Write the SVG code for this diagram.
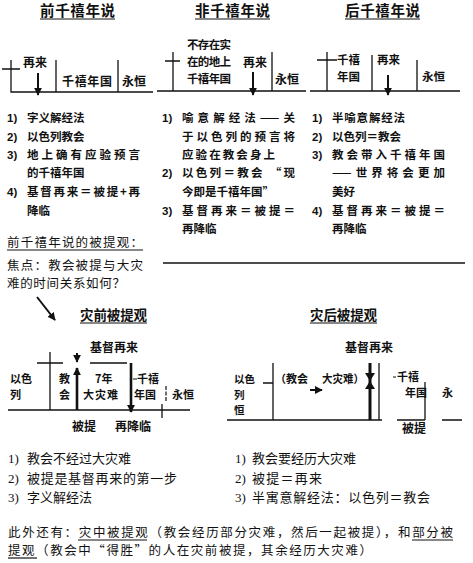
<svg xmlns="http://www.w3.org/2000/svg" width="473" height="563" viewBox="0 0 473 563">
<defs>
<marker id="ah" viewBox="0 0 10 10" refX="9" refY="5" markerWidth="4" markerHeight="4" orient="auto" markerUnits="strokeWidth"><path d="M0,0 L10,5 L0,10 z" fill="#111"/></marker>
<marker id="ahs" viewBox="0 0 10 10" refX="9" refY="5" markerWidth="3.2" markerHeight="3.2" orient="auto" markerUnits="strokeWidth"><path d="M0,0 L10,5 L0,10 z" fill="#111"/></marker>
</defs>
<style>
text{fill:#111;font-family:"Noto Sans CJK SC","Liberation Sans",sans-serif}
.t{font-size:14.5px;font-weight:bold}
.st{font-size:13.5px;font-weight:bold}
.lb{font-size:12px;font-weight:bold}
.ls{font-size:11px;font-weight:bold}
.lx{font-size:10.5px;font-weight:bold}
.lt{font-size:11.5px;font-weight:bold}
.li{font-size:11.5px;font-weight:bold}
.n{font-family:"Liberation Sans","Noto Sans CJK SC",sans-serif;font-size:11.5px;font-weight:bold}
.m{font-size:12.5px}
.b{font-size:13px}
.p{font-size:12.5px}
.bn{font-family:"Liberation Serif","Noto Sans CJK SC",serif;font-size:13px}
.ln{stroke:#111;stroke-width:1.3;fill:none}
.ul{stroke:#111;stroke-width:1.2}
.ar{stroke:#111;stroke-width:2;fill:none;marker-end:url(#ah)}
.arT{stroke:#111;stroke-width:2.6;fill:none;marker-end:url(#ahs)}
</style>

<!-- Titles -->
<g id="title-pre">
<text class="t" x="40" y="16" textLength="75" lengthAdjust="spacing">前千禧年说</text>
<line class="ul" x1="40" y1="19" x2="115" y2="19"/>
</g>
<g id="title-a">
<text class="t" x="195" y="16" textLength="75" lengthAdjust="spacing">非千禧年说</text>
<line class="ul" x1="195" y1="19" x2="270" y2="19"/>
</g>
<g id="title-post">
<text class="t" x="345" y="16" textLength="75" lengthAdjust="spacing">后千禧年说</text>
<line class="ul" x1="345" y1="19" x2="420" y2="19"/>
</g>

<!-- Diagram 1: premillennial -->
<g id="diag-pre">
<path class="ln" d="M2,69 H20 M11,60 V92 H153 M56,60 V92 M118,60 V92"/>
<text class="lb" x="23" y="67">再来</text>
<text class="lb" x="62" y="86" textLength="50" lengthAdjust="spacing">千禧年国</text>
<text class="lb" x="122" y="86">永恒</text>
</g>
<!-- Diagram 2: amillennial -->
<g id="diag-a">
<path class="ln" d="M165,61 H180 M173,52 V91 M157,91 H306 M272,52 V91"/>
<text class="lt" x="187" y="49" textLength="44" lengthAdjust="spacing">不存在实</text>
<text class="lt" x="187" y="66" textLength="44" lengthAdjust="spacing">在的地上</text>
<text class="lt" x="187" y="83" textLength="44" lengthAdjust="spacing">千禧年国</text>
<text class="lb" x="243" y="67">再来</text>
<text class="lb" x="275" y="84">永恒</text>
</g>
<!-- Diagram 3: postmillennial -->
<g id="diag-post">
<path class="ln" d="M317,60 H337 M327,52 V91 M310,91 H460 M372,55 V91 M417,60 V91"/>
<text class="lt" x="337" y="64">千禧</text>
<text class="lt" x="337" y="81">年国</text>
<text class="lt" x="377" y="64">再来</text>
<text class="lt" x="422" y="81">永恒</text>
</g>

<!-- Lists top -->
<g id="list-pre">
<text class="n" x="7" y="122">1)</text><text class="li" x="27" y="122">字义解经法</text>
<text class="n" x="7" y="141">2)</text><text class="li" x="27" y="141">以色列教会</text>
<text class="n" x="7" y="159">3)</text><text class="li" x="27" y="159" textLength="113" lengthAdjust="spacing">地上确有应验预言</text>
<text class="li" x="27" y="177">的千禧年国</text>
<text class="n" x="7" y="196">4)</text><text class="li" x="27" y="196" textLength="113" lengthAdjust="spacing">基督再来＝被提+再</text>
<text class="li" x="27" y="215">降临</text>
</g>
<g id="list-a">
<text class="n" x="162" y="122">1)</text><text class="li" x="182" y="122" textLength="113" lengthAdjust="spacing">喻意解经法——关</text>
<text class="li" x="182" y="141" textLength="113" lengthAdjust="spacing">于以色列的预言将</text>
<text class="li" x="182" y="159" textLength="93" lengthAdjust="spacing">应验在教会身上</text>
<text class="n" x="162" y="177">2)</text><text class="li" x="182" y="177" textLength="113" lengthAdjust="spacing">以色列＝教会 “现</text>
<text class="li" x="182" y="196" textLength="92" lengthAdjust="spacing">今即是千禧年国”</text>
<text class="n" x="162" y="215">3)</text><text class="li" x="182" y="215" textLength="113" lengthAdjust="spacing">基督再来＝被提＝</text>
<text class="li" x="182" y="233">再降临</text>
</g>
<g id="list-post">
<text class="n" x="312" y="122">1)</text><text class="li" x="332" y="122" textLength="73" lengthAdjust="spacing">半喻意解经法</text>
<text class="n" x="312" y="141">2)</text><text class="li" x="332" y="141">以色列＝教会</text>
<text class="n" x="312" y="159">3)</text><text class="li" x="332" y="159" textLength="113" lengthAdjust="spacing">教会带入千禧年国</text>
<text class="li" x="332" y="177" textLength="113" lengthAdjust="spacing">——世界将会更加</text>
<text class="li" x="332" y="196">美好</text>
<text class="n" x="312" y="215">4)</text><text class="li" x="332" y="215" textLength="113" lengthAdjust="spacing">基督再来＝被提＝</text>
<text class="li" x="332" y="233">再降临</text>
</g>

<!-- Middle -->
<g id="focus">
<text class="m" x="7" y="247" textLength="136" lengthAdjust="spacing">前千禧年说的被提观：</text>
<line class="ul" x1="7" y1="250" x2="143" y2="250"/>
<text class="m" x="7" y="270" textLength="136" lengthAdjust="spacing">焦点：教会被提与大灾</text>
<text class="m" x="7" y="288" textLength="118" lengthAdjust="spacing">难的时间关系如何？</text>
</g>
<g id="divider"><line x1="163" y1="263" x2="465" y2="263" stroke="#111" stroke-width="1.4"/></g>

<g id="title-pretrib">
<text class="st" x="80" y="320" textLength="67" lengthAdjust="spacing">灾前被提观</text>
<line class="ul" x1="80" y1="323" x2="147" y2="323"/>
</g>
<g id="title-posttrib">
<text class="st" x="310" y="320" textLength="67" lengthAdjust="spacing">灾后被提观</text>
<line class="ul" x1="310" y1="323" x2="377" y2="323"/>
</g>

<!-- Pre-trib diagram -->
<g id="diag-pretrib">
<path class="ln" d="M37,363 H63 M50,352 V410 M90,363 H127 M8,410 H190 M162,404 V418"/>
<line x1="166" y1="386" x2="166" y2="401" stroke="#111" stroke-width="1.2" stroke-dasharray="4,1.5"/>
<line x1="133" y1="379" x2="137" y2="379" stroke="#111" stroke-width="1"/>
<text class="lb" x="90" y="352">基督再来</text>
<text class="ls" x="10" y="383">以色</text>
<text class="ls" x="10" y="399">列</text>
<text class="ls" x="59" y="383">教</text>
<text class="ls" x="59" y="399">会</text>
<text class="ls" x="95" y="383">7年</text>
<text class="ls" x="83" y="399" textLength="35" lengthAdjust="spacing">大灾难</text>
<text class="ls" x="137" y="383">千禧</text>
<text class="ls" x="134" y="399">年国</text>
<text class="ls" x="172" y="399">永恒</text>
<text class="lb" x="72" y="431">被提</text>
<text class="lb" x="115" y="431">再降临</text>
</g>

<!-- Post-trib diagram -->
<g id="diag-posttrib">
<path class="ln" d="M263,383 H273 M273,363 V420 M379,363 V420 M227,420 H382 M425,382 V420 M397,420 H425 M442,420 H462"/>
<line x1="370" y1="363" x2="370" y2="420" stroke="#111" stroke-width="3"/>
<path d="M365,373 H375 L370,381 Z M365,389 H375 L370,381 Z" fill="#111"/>
<line x1="393" y1="377" x2="396" y2="377" stroke="#111" stroke-width="1"/>
<text class="lb" x="345" y="352">基督再来</text>
<text class="lx" x="234" y="383">以色</text>
<text class="lx" x="234" y="398.5">列</text>
<text class="lx" x="234" y="414">恒</text>
<text class="ls" x="275" y="383" textLength="33" lengthAdjust="spacingAndGlyphs">（教会</text>
<text class="ls" x="322" y="383" textLength="42" lengthAdjust="spacingAndGlyphs">大灾难）</text>
<text class="ls" x="397" y="381">千禧</text>
<text class="ls" x="405" y="397">年国</text>
<text class="ls" x="442" y="397">永</text>
<text class="lb" x="402" y="433">被提</text>
</g>

<!-- Connectors / arrows -->
<g id="connectors">
<line class="ar" x1="38" y1="73" x2="38" y2="95"/>
<line class="ar" x1="253" y1="72" x2="253" y2="95"/>
<line class="ar" x1="388" y1="75" x2="388" y2="95"/>
<line class="ar" x1="37" y1="297" x2="55" y2="320"/>
<line class="ar" x1="77" y1="353" x2="77" y2="362"/>
<line class="arT" x1="77" y1="410" x2="77" y2="368"/>
<line class="arT" x1="131" y1="363" x2="131" y2="412"/>
<line class="ar" x1="310" y1="390" x2="322" y2="390"/>
</g>

<!-- Bottom lists -->
<g id="list-pretrib">
<text class="bn" x="8" y="463">1)</text><text class="b" x="27" y="463">教会不经过大灾难</text>
<text class="bn" x="8" y="483">2)</text><text class="b" x="27" y="483" textLength="150" lengthAdjust="spacing">被提是基督再来的第一步</text>
<text class="bn" x="8" y="502">3)</text><text class="b" x="27" y="502">字义解经法</text>
</g>
<g id="list-posttrib">
<text class="bn" x="235" y="463">1)</text><text class="b" x="252" y="463">教会要经历大灾难</text>
<text class="bn" x="235" y="483">2)</text><text class="b" x="252" y="483" textLength="70" lengthAdjust="spacing">被提＝再来</text>
<text class="bn" x="235" y="502">3)</text><text class="b" x="252" y="502" textLength="178" lengthAdjust="spacing">半寓意解经法：以色列＝教会</text>
</g>

<!-- Bottom paragraph -->
<g id="note">
<text class="p" x="8" y="537" textLength="445" lengthAdjust="spacing">此外还有：灾中被提观（教会经历部分灾难，然后一起被提），和部分被</text>
<line class="ul" x1="78" y1="540" x2="147" y2="540"/>
<line class="ul" x1="412" y1="540" x2="453" y2="540"/>
<text class="p" x="8" y="555" textLength="364" lengthAdjust="spacing">提观（教会中“得胜”的人在灾前被提，其余经历大灾难）</text>
<line class="ul" x1="8" y1="558" x2="37" y2="558"/>
</g>
</svg>
